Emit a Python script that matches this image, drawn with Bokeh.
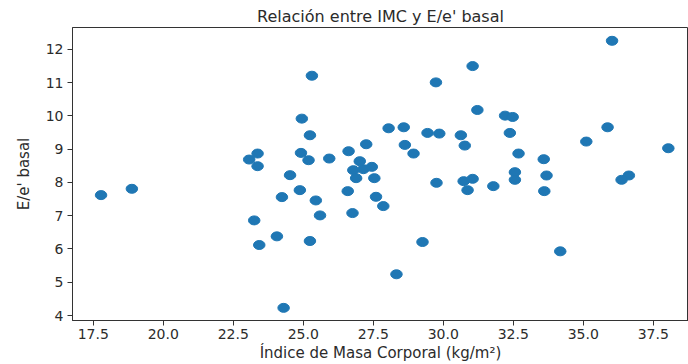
from bokeh.plotting import figure
from bokeh.models import FixedTicker, NumeralTickFormatter, Range1d
from bokeh.embed import file_html
from bokeh.resources import INLINE

# Body mass index (kg/m²) and baseline E/e' ratio per patient
imc = [17.78, 18.88, 23.37, 23.07, 23.37, 23.25, 23.43, 24.06, 24.24, 24.30,
       24.53, 24.88, 24.92, 24.95, 25.19, 25.24, 25.31, 25.24, 25.45, 25.60,
       25.93, 26.59, 26.62, 26.76, 26.79, 27.15, 27.45, 26.89, 27.02, 27.25,
       27.54, 27.60, 27.86, 28.05, 28.59, 28.63, 28.94, 28.33, 29.26, 29.44,
       29.74, 29.76, 29.86, 30.63, 30.77, 30.73, 31.05, 30.87, 31.05, 31.22,
       31.79, 32.21, 32.48, 32.38, 32.69, 32.56, 32.56, 33.59, 33.69, 33.61,
       34.18, 35.11, 35.87, 36.03, 36.63, 36.37, 38.04]
ee_basal = [7.62, 7.81, 8.87, 8.69, 8.49, 6.86, 6.12, 6.38, 7.56, 4.23,
            8.22, 7.77, 8.89, 9.92, 8.67, 9.42, 11.21, 6.24, 7.46, 7.01,
            8.72, 7.74, 8.94, 7.08, 8.37, 8.40, 8.47, 8.13, 8.64, 9.15,
            8.13, 7.57, 7.29, 9.63, 9.66, 9.13, 8.87, 5.24, 6.21, 9.49,
            11.01, 7.99, 9.47, 9.42, 9.11, 8.04, 8.11, 7.77, 11.50, 10.18,
            7.89, 10.01, 9.97, 9.49, 8.87, 8.31, 8.08, 8.70, 8.21, 7.74,
            5.93, 9.23, 9.66, 12.26, 8.21, 8.08, 9.03]

x_ticks = [17.5, 20.0, 22.5, 25.0, 27.5, 30.0, 32.5, 35.0, 37.5]
y_ticks = [4, 5, 6, 7, 8, 9, 10, 11, 12]

TEXT = "#2b2b2b"
FONT = "DejaVu Sans"

p = figure(width=688, height=364, output_backend="svg", toolbar_location=None,
           title="Relación entre IMC y E/e' basal",
           x_range=Range1d(16.76, 38.76), y_range=Range1d(3.85, 12.66),
           min_border_left=72, min_border_right=0, min_border_top=27,
           min_border_bottom=42)

p.ellipse(imc, ee_basal, width=11.5, height=9, width_units="screen",
          height_units="screen", fill_color="#1f77b4", line_color="#1f77b4")

p.title.align = "center"
p.title.text_font = FONT
p.title.text_font_size = "16px"
p.title.text_font_style = "normal"
p.title.text_color = TEXT
p.title.offset = 0
p.title.standoff = 3

p.grid.visible = False
p.outline_line_color = "#333333"
p.outline_line_width = 1
p.background_fill_color = "white"
p.border_fill_color = "white"

p.xaxis.ticker = FixedTicker(ticks=x_ticks)
p.xaxis.formatter = NumeralTickFormatter(format="0.0")
p.yaxis.ticker = FixedTicker(ticks=y_ticks)
p.xaxis.axis_label = "Índice de Masa Corporal (kg/m²)"
p.yaxis.axis_label = "E/e' basal"

for ax in (p.xaxis, p.yaxis):
    ax.axis_line_color = "#333333"
    ax.major_tick_line_color = "#333333"
    ax.major_tick_out = 5
    ax.major_tick_in = 0
    ax.minor_tick_line_color = None
    ax.major_label_text_font = FONT
    ax.major_label_text_font_size = "14px"
    ax.major_label_text_color = TEXT
    ax.axis_label_text_font = FONT
    ax.axis_label_text_font_size = "15px"
    ax.axis_label_text_font_style = "normal"
    ax.axis_label_text_color = TEXT

p.xaxis.major_label_standoff = 3
p.xaxis.axis_label_standoff = 2
p.yaxis.major_label_standoff = 4
p.yaxis.axis_label_standoff = 10

open("out.html", "w").write(file_html(p, INLINE))
